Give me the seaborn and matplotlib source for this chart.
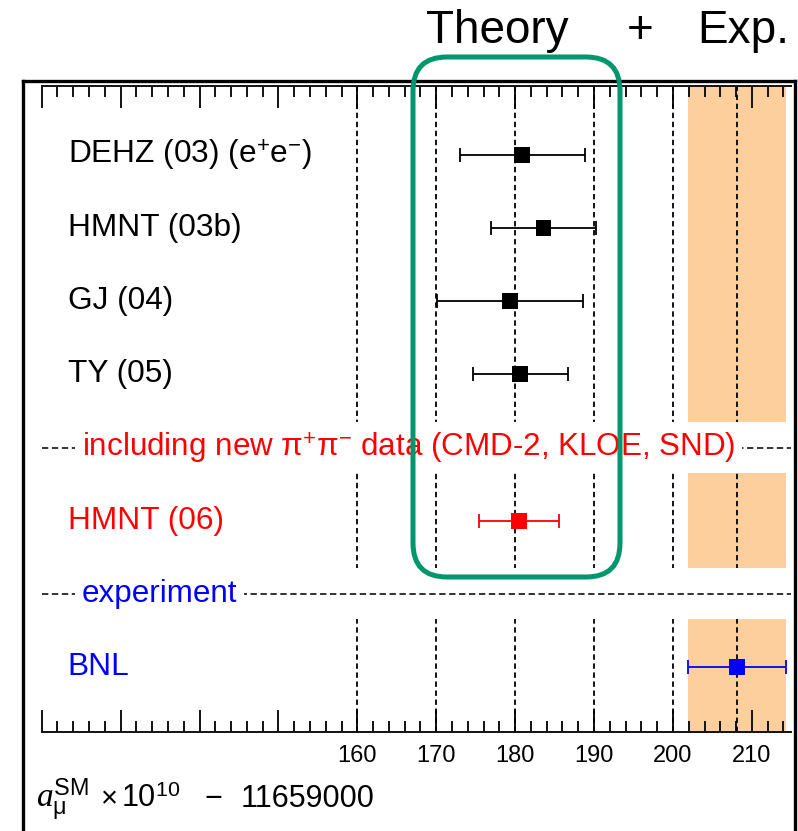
import numpy as np
import pandas as pd
import matplotlib
matplotlib.use("Agg")
import matplotlib.pyplot as plt
import seaborn as sns
from matplotlib.patches import FancyBboxPatch
from matplotlib.lines import Line2D
from matplotlib.transforms import IdentityTransform
from matplotlib.ticker import FuncFormatter, MultipleLocator

# ---------------- data ----------------
labels = [r"DEHZ (03) (e$^{+}$e$^{-}$)", "HMNT (03b)", "GJ (04)", "TY (05)", "HMNT (06)", "BNL"]
values = [180.9, 183.6, 179.35, 180.65, 180.45, 208.1]
errors = [7.95, 6.7, 9.25, 6.0, 5.05, 6.2]
rows = [0, 1, 2, 3, 5, 7]
groups = ["theory", "theory", "theory", "theory", "new", "exp"]
sep_labels = [r"including new π$^{+}$π$^{-}$ data (CMD-2, KLOE, SND)", "experiment"]
sep_rows = [4, 6]
sep_groups = ["new", "exp"]
grid_values = [160, 170, 180, 190, 200]
tick_values = [120, 130, 140, 150, 160, 170, 180, 190, 200, 210]
labeled_ticks = [160, 170, 180, 190, 200, 210]
xlabel_parts = [r"$a_{\mathrm{\mu}}^{\mathrm{SM}}$", "×", r"10$^{10}$", "−", "11659000"]
title_parts = ["Theory", "+", "Exp."]

palette = {"theory": "black", "new": "#ff0000", "exp": "#0000ff"}

df = pd.DataFrame({"label": labels, "value": values, "err": errors,
                   "row": rows, "group": groups})

sns.set_theme(style="white")
plt.rcParams["font.family"] = ["Liberation Sans", "DejaVu Sans"]
plt.rcParams["mathtext.fontset"] = "custom"
plt.rcParams["mathtext.rm"] = "Liberation Sans"
plt.rcParams["mathtext.sf"] = "Liberation Sans"
plt.rcParams["mathtext.it"] = "Liberation Serif:italic"
plt.rcParams["text.color"] = "black"
plt.rcParams["xtick.color"] = "black"
plt.rcParams["xtick.labelcolor"] = "black"

W, H = 798, 831
fig = plt.figure(figsize=(W / 100, H / 100), dpi=100)
fig.patch.set_facecolor("white")

ax_l, ax_r, ax_t, ax_b = 41.7, 791.3, 86, 732
ax = fig.add_axes([ax_l / W, 1 - ax_b / H, (ax_r - ax_l) / W, (ax_b - ax_t) / H])
ax.set_facecolor("white")

ax.set_xlim(120, 215)
ax.set_ylim(7.89, -0.944)

# experiment band
bnl_v, bnl_e = values[-1], errors[-1]
ax.axvspan(bnl_v - bnl_e, bnl_v + bnl_e, color="#fdcf9c", lw=0, zorder=0)

# vertical dashed lines
for v in grid_values + [bnl_v]:
    ax.axvline(v, color="black", lw=1.3, ls=(0, (3, 2)), zorder=1)

# separator rows
for r, t, g in zip(sep_rows, sep_labels, sep_groups):
    ax.axhspan(r - 0.35, r + 0.35, color="white", lw=0, zorder=2)
    ax.axhline(r, color="#222222", lw=1.3, ls=(0, (3.5, 2)), zorder=3)
    ax.text(125.1, r, t, color=palette[g], fontsize=22.6, va="center", ha="left",
            zorder=4, bbox=dict(facecolor="white", edgecolor="none",
                                boxstyle="square,pad=0.22"))

# row labels
for lab, r, g in zip(labels, rows, groups):
    ax.text(123.3, r, lab, color=palette[g], fontsize=22.8, va="center",
            ha="left", zorder=4)

# error bars
for v, e, r, g in zip(values, errors, rows, groups):
    ax.errorbar(v, r, xerr=e, fmt="none", ecolor=palette[g], elinewidth=1.3,
                capsize=5, capthick=1.3, zorder=5)

sns.scatterplot(data=df, x="value", y="row", hue="group", palette=palette,
                marker="s", s=130, linewidth=0, legend=False, ax=ax, zorder=6)

# axes styling
for s in ["left", "right"]:
    ax.spines[s].set_visible(False)
for s in ["top", "bottom"]:
    ax.spines[s].set_visible(True)
    ax.spines[s].set_color("#111111")
    ax.spines[s].set_linewidth(1.4)
ax.set_xticks(tick_values)
ax.xaxis.set_minor_locator(MultipleLocator(2))
ax.xaxis.set_major_formatter(FuncFormatter(
    lambda x, p: f"{int(round(x))}" if int(round(x)) in labeled_ticks else ""))
ax.tick_params(axis="x", which="both", direction="in", top=True, bottom=True,
               labeltop=False, labelbottom=True, color="#111111")
ax.tick_params(axis="x", which="major", length=16, width=1.4, labelsize=17,
               pad=9, labelcolor="black")
ax.tick_params(axis="x", which="minor", length=8, width=1.4)
ax.set_yticks([])
ax.set_xlabel("")
ax.set_ylabel("")

# axis title text, placed piece by piece
xl_pos = [36, 101, 121, 204, 241]
xl_size = [24, 21, 22, 22, 22]
for t, xp, fs in zip(xlabel_parts, xl_pos, xl_size):
    fig.text(xp / W, 1 - 807 / H, t, fontsize=fs, ha="left", va="baseline",
             color="black")

# outer frame
frame_kw = dict(transform=fig.transFigure, color="black", lw=2.4,
                solid_capstyle="projecting")
fig.add_artist(Line2D([23 / W, 23 / W], [1 - 81 / H, 0], **frame_kw))
fig.add_artist(Line2D([23 / W, 795 / W], [1 - 81 / H, 1 - 81 / H], **frame_kw))
fig.add_artist(Line2D([795 / W, 795 / W], [1 - 81 / H, 0], **frame_kw))

# title words
for t, xp, ha in zip(title_parts, [426, 640, 697], ["left", "center", "left"]):
    fig.text(xp / W, 1 - 43 / H, t, fontsize=33, ha=ha, va="baseline",
             color="black")

# green rounded box (pixel coordinates)
box = FancyBboxPatch((413, H - 577), 620 - 413, 577 - 57,
                     boxstyle="round,pad=0,rounding_size=34",
                     transform=IdentityTransform(), facecolor="none",
                     edgecolor="#00966e", lw=3.6, zorder=20)
fig.add_artist(box)

fig.savefig("out.png", dpi=100, facecolor="white")
